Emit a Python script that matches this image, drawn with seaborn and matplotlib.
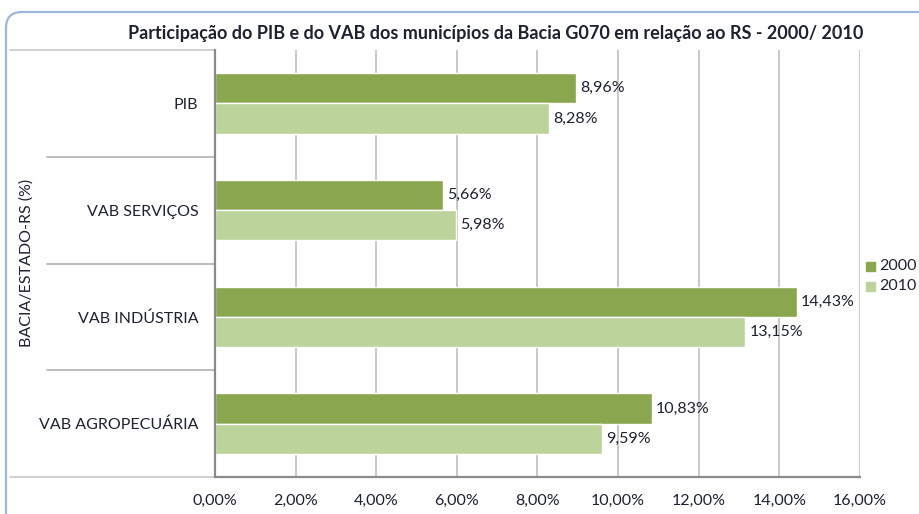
import matplotlib
matplotlib.use("Agg")
import matplotlib.pyplot as plt
from matplotlib.patches import FancyBboxPatch
from matplotlib.lines import Line2D
from matplotlib.ticker import FuncFormatter
import seaborn as sns
import pandas as pd

# Data
categories = ["PIB", "VAB SERVIÇOS", "VAB INDÚSTRIA", "VAB AGROPECUÁRIA"]
years = ["2000", "2010"]
values_2000 = [8.96, 5.66, 14.43, 10.83]
values_2010 = [8.28, 5.98, 13.15, 9.59]
x_ticks = [0, 2, 4, 6, 8, 10, 12, 14, 16]

title = "Participação do PIB e do VAB dos municípios da Bacia G070 em relação ao RS - 2000/ 2010"
y_title = "BACIA/ESTADO-RS (%)"

df = pd.DataFrame({
    "categoria": categories * 2,
    "ano": [years[0]] * len(categories) + [years[1]] * len(categories),
    "valor": values_2000 + values_2010,
})

sns.set_theme(style="white")
plt.rcParams["font.family"] = ["Lato", "DejaVu Sans"]

text_color = "#1e2230"
colors = {"2000": "#8aa64f", "2010": "#bcd39c"}


def pct(v):
    return f"{v:.2f}%".replace(".", ",")


W, H = 920, 514
fig = plt.figure(figsize=(W / 100, H / 100), dpi=100)
ax = fig.add_axes([215 / W, 1 - 477 / H, (860 - 215) / W, (477 - 50) / H])

sns.barplot(data=df, y="categoria", x="valor", hue="ano", hue_order=years,
            order=categories, palette=colors, orient="h", width=0.565,
            saturation=1, ax=ax, legend=False)

ax.set_xlim(0, 16)
ax.set_ylim(3.5, -0.5)
ax.set_xticks(x_ticks)
ax.xaxis.set_major_formatter(FuncFormatter(lambda v, p: pct(v)))
ax.tick_params(axis="x", direction="out", length=4, width=1, color="#888888",
               labelsize=11.5, labelcolor=text_color, pad=8)
ax.tick_params(axis="y", length=0, labelsize=11.5, labelcolor=text_color, pad=12)
ax.set_xlabel("")
ax.set_ylabel("")

ax.grid(axis="x", color="#c8c8c8", linewidth=1.4)
ax.set_axisbelow(True)
for side in ["top", "right"]:
    ax.spines[side].set_visible(False)
for side in ["left", "bottom"]:
    ax.spines[side].set_color("#8a8a8a")
    ax.spines[side].set_linewidth(1.6)

# value labels on each bar
for container, vals in zip(ax.containers, [values_2000, values_2010]):
    ax.bar_label(container, labels=[pct(v) for v in vals], padding=3,
                 fontsize=11.5, color=text_color)

# category separator lines in the label area
ax_w = (860 - 215)
for yb in [0.5, 1.5, 2.5]:
    ax.add_line(Line2D([-(215 - 47) / ax_w, 0], [yb, yb], transform=ax.get_yaxis_transform(),
                       color="#b0b0b0", linewidth=1.2, clip_on=False))
for yb in [-0.5, 3.5]:
    ax.add_line(Line2D([-(215 - 10) / ax_w, 0], [yb, yb], transform=ax.get_yaxis_transform(),
                       color="#c8c8c8", linewidth=1.2, clip_on=False))

# axis title
fig.text(27 / W, 1 - 263 / H, y_title, rotation=90, ha="center", va="center",
         fontsize=11.5, color=text_color)

# chart title
fig.text(496 / W, 1 - 33 / H, title, ha="center", va="center", fontsize=13,
         fontweight="bold", color=text_color)

# legend
for i, yr in enumerate(years):
    fy = 1 - (266 + 20 * i) / H
    fig.patches.append(plt.Rectangle((866 / W, fy - 4.5 / H), 9 / W, 9 / H,
                                     transform=fig.transFigure, color=colors[yr]))
    fig.text(879 / W, fy, yr, ha="left", va="center", fontsize=11.5, color=text_color)

# rounded chart frame
frame = FancyBboxPatch((0.06, -0.3), 9.5, 5.02 + 0.3,
                       boxstyle="round,pad=0,rounding_size=0.16",
                       transform=fig.dpi_scale_trans, fill=False,
                       edgecolor="#9db6dc", linewidth=1.6)
fig.patches.append(frame)

fig.savefig("out.png", dpi=100)
